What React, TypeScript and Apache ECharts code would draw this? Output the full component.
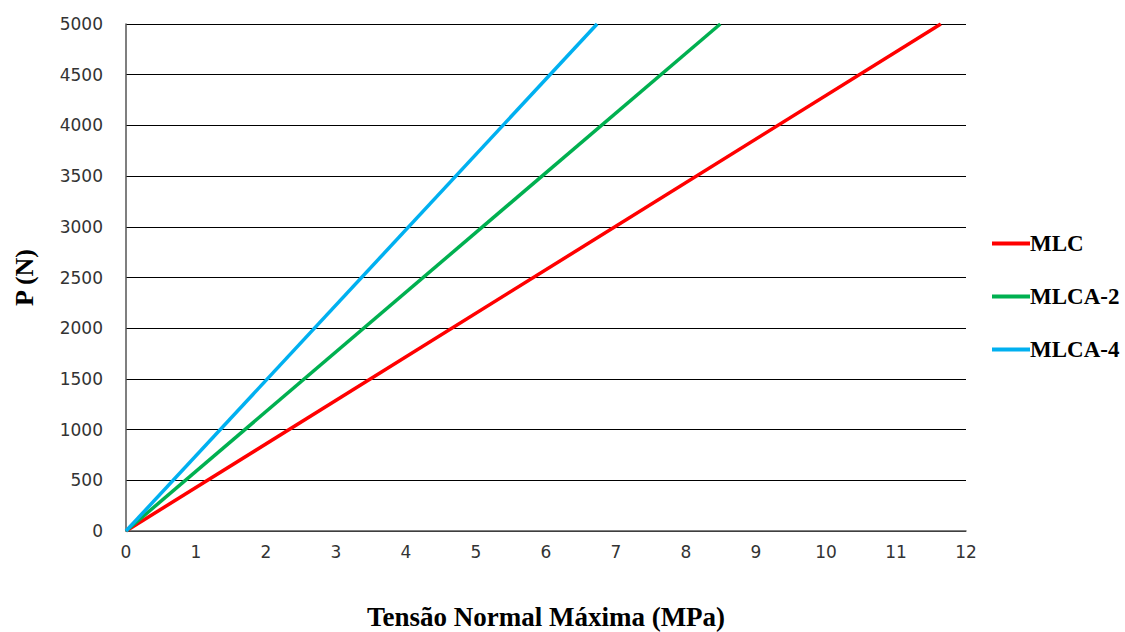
import React, { useEffect, useRef } from "react";
import * as echarts from "echarts";

const seriesNames = ["MLC", "MLCA-2", "MLCA-4"];
const seriesColors = ["#FF0000", "#00B050", "#00B0F0"];
// [Tensão (MPa), P (N)]
const mlc = [[0, 0], [11.64, 5000]];
const mlca2 = [[0, 0], [8.49, 5000]];
const mlca4 = [[0, 0], [6.73, 5000]];
const xTitle = "Tensão Normal Máxima (MPa)";
const yTitle = "P (N)";

export default function App() {
  const ref = useRef<HTMLDivElement>(null);
  useEffect(() => {
    document.body.style.margin = "0";
    const chart = echarts.init(ref.current!, null, { renderer: "svg" });
    const data = [mlc, mlca2, mlca4];
    const serif = "'Liberation Serif', 'Times New Roman', serif";
    chart.setOption({
      animation: false,
      backgroundColor: "#ffffff",
      grid: { left: 126, right: 159, top: 24, bottom: 101, containLabel: false, outerBoundsMode: "none" },
      legend: {
        orient: "vertical",
        left: 987,
        top: 227,
        itemGap: 30,
        itemWidth: 38,
        itemHeight: 4,
        icon: "rect",
        textStyle: { fontFamily: serif, fontWeight: "bold", fontSize: 23, color: "#000", padding: [0, 0, 0, -5] },
        data: seriesNames,
      },
      xAxis: {
        type: "value",
        min: 0,
        max: 12,
        interval: 1,
        name: xTitle,
        nameLocation: "middle",
        nameGap: 72,
        nameTextStyle: { fontFamily: serif, fontWeight: "bold", fontSize: 27, color: "#000" },
        axisLine: { show: true, lineStyle: { color: "#555", width: 1.5 } },
        axisTick: { show: false },
        splitLine: { show: false },
        axisLabel: { fontFamily: "DejaVu Sans", fontSize: 17, color: "#333", margin: 12, formatter: (v: number) => String(v) },
      },
      yAxis: {
        type: "value",
        min: 0,
        max: 5000,
        interval: 500,
        name: yTitle,
        nameLocation: "middle",
        nameGap: 89,
        nameRotate: 90,
        nameTextStyle: { fontFamily: serif, fontWeight: "bold", fontSize: 26, color: "#000" },
        axisLine: { show: true, lineStyle: { color: "#555", width: 1.5 } },
        axisTick: { show: false },
        splitLine: { show: true, lineStyle: { color: "#000", width: 1 } },
        axisLabel: { fontFamily: "DejaVu Sans", fontSize: 17, color: "#333", margin: 23, formatter: (v: number) => String(v) },
      },
      series: seriesNames.map((n, i) => ({
        name: n,
        type: "line",
        data: data[i],
        showSymbol: false,
        symbol: "none",
        lineStyle: { color: seriesColors[i], width: 3.5 },
        itemStyle: { color: seriesColors[i] },
      })),
    });
    return () => chart.dispose();
  }, []);
  return <div ref={ref} style={{ width: 1125, height: 632 }} />;
}
